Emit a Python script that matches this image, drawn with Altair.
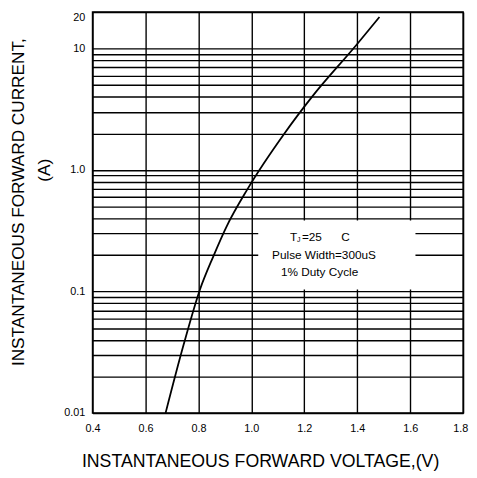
import altair as alt
import pandas as pd

# Curve (forward voltage V, forward current A)
voltage = [0.676, 0.744, 0.806, 0.856, 0.905, 0.986, 1.125, 1.229, 1.40, 1.484]
current = [0.01, 0.0364, 0.104, 0.194, 0.338, 0.7, 2.0, 4.0, 10.9, 18.2]

x_ticks = [0.4, 0.6, 0.8, 1.0, 1.2, 1.4, 1.6, 1.8]
y_grid = [0.01, 0.02, 0.03, 0.04, 0.05, 0.06, 0.07, 0.08, 0.09,
          0.1, 0.2, 0.3, 0.4, 0.5, 0.6, 0.7, 0.8, 0.9,
          1, 2, 3, 4, 5, 6, 7, 8, 9, 10, 20]
y_label_values = [0.01, 0.1, 1, 10, 20]
y_label_texts = ["0.01", "0.1", "1.0", "10", "20"]

df = pd.DataFrame({"V": voltage, "I": current})

label_expr = " : ".join(
    f"datum.value == {v} ? '{t}'" for v, t in zip(y_label_values, y_label_texts)
) + " : ''"

FONT = "Liberation Sans"

xscale = alt.Scale(domain=[0.4, 1.8], nice=False, zero=False)
yscale = alt.Scale(type="log", domain=[0.01, 20], nice=False)

xaxis = alt.Axis(values=x_ticks, format=".1f", grid=True, gridColor="black",
                 gridWidth=1.4, gridOpacity=1, ticks=False, domain=False,
                 labelFlush=False, labelPadding=10, labelFontSize=11,
                 labelOffset={"condition": {"test": f"datum.value == {x_ticks[-1]}",
                                            "value": -3},
                              "value": 0},
                 labelColor="black", labelFont=FONT,
                 title="INSTANTANEOUS FORWARD VOLTAGE,(V)",
                 titleFont=FONT, titleFontSize=18, titleFontWeight="normal",
                 titleColor="black", titleX=170.5, titleY=54,
                 titleBaseline="alphabetic")
yaxis = alt.Axis(values=y_grid, labelExpr=label_expr, labelOverlap=False,
                 labelFlush=False,
                 labelBaseline={"condition": {"test": f"datum.value == {y_label_values[-1]}",
                                              "value": "top"},
                                "value": "middle"},
                 grid=True, gridColor="black", gridWidth=1.4,
                 gridOpacity=1, ticks=False, domain=False, labelPadding=8,
                 labelFontSize=11, labelColor="black", labelFont=FONT,
                 title="INSTANTANEOUS FORWARD CURRENT,",
                 titleFont=FONT, titleFontSize=17.5, titleFontWeight="normal",
                 titleColor="black", titleAngle=270, titleX=-70, titleY=193,
                 titleAlign="center", titleBaseline="alphabetic")

line = alt.Chart(df).mark_line(color="black", strokeWidth=1.8, interpolate="monotone").encode(
    x=alt.X("V:Q", scale=xscale, axis=xaxis),
    y=alt.Y("I:Q", scale=yscale, axis=yaxis),
)

box = alt.Chart(pd.DataFrame({"a": [0]})).mark_rect(color="white").encode(
    x=alt.X(datum=1.026, scale=xscale, axis=xaxis),
    x2=alt.datum(1.62),
    y=alt.Y(datum=0.104, scale=yscale, axis=yaxis),
    y2=alt.datum(0.385),
)

one = pd.DataFrame({"a": [0]})


def txt(s, x, y, size=12, align="left", baseline="middle", angle=0):
    return alt.Chart(one).mark_text(font=FONT, fontSize=size, align=align,
                                    baseline=baseline, angle=angle, color="black").encode(
        x=alt.value(x), y=alt.value(y), text=alt.value(s))


texts = [
    txt("T", 201, 229),
    txt("J", 208, 232, size=7),
    txt("=25", 213, 229),
    txt("C", 253, 229),
    txt("Pulse Width=300uS", 235.5, 247.7, align="center"),
    txt("1% Duty Cycle", 231, 265, align="center"),
    txt("(A)", -43, 161, size=17.5, align="center", baseline="alphabetic", angle=270),
]

chart = alt.layer(line, box, *texts).properties(
    width=377, height=408,
    autosize=alt.AutoSizeParams(type="none"),
    padding={"left": 86, "top": 0, "right": 6, "bottom": 58},
    background="white",
).configure_view(stroke="black", strokeWidth=1.5)

chart.save("out.html", embed_options={"renderer": "svg", "actions": False})
